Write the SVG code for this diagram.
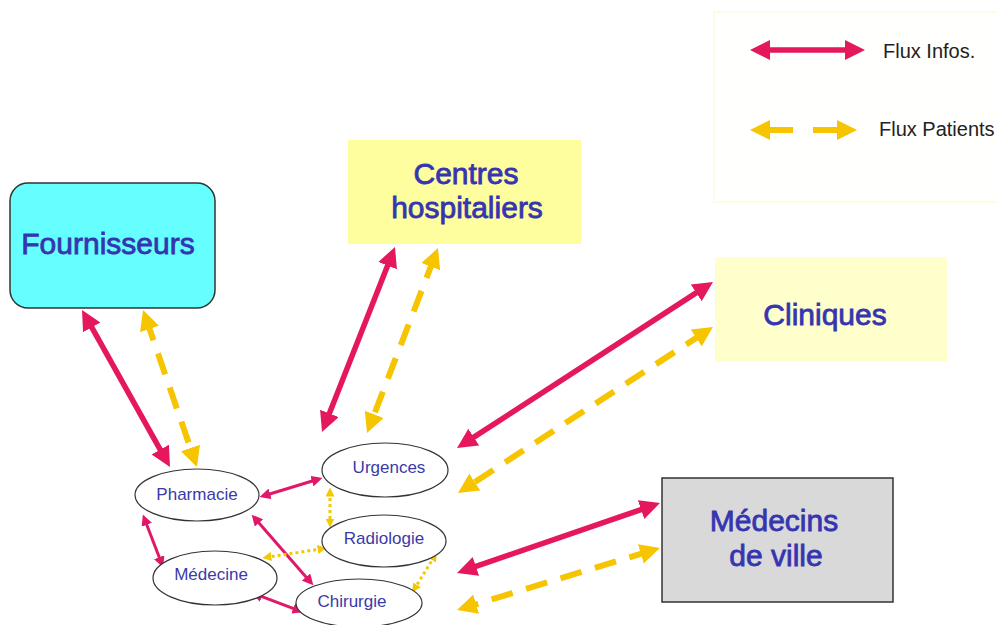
<svg xmlns="http://www.w3.org/2000/svg" width="997" height="625" viewBox="0 0 997 625">
<style>
.big{font-family:"Liberation Sans",Arial,sans-serif;font-size:30px;fill:#3535b0;stroke:#3535b0;stroke-width:0.8;text-anchor:middle}
.small{font-family:"Liberation Sans",Arial,sans-serif;font-size:17px;fill:#3a3aa8;text-anchor:middle}
.leg{font-family:"Liberation Sans",Arial,sans-serif;font-size:20px;fill:#222}
.ell{fill:#fff;stroke:#333;stroke-width:1.2}
.pinkB{stroke:#e5175d;stroke-width:5.5;fill:none;marker-start:url(#hp);marker-end:url(#hp)}
.yelB{stroke:#f7c400;stroke-width:6;fill:none;stroke-dasharray:22 14;marker-start:url(#hy);marker-end:url(#hy)}
.pinkS{stroke:#e0186a;stroke-width:3;fill:none;marker-start:url(#sp);marker-end:url(#sp)}
.yelS{stroke:#f2c800;stroke-width:3;fill:none;stroke-dasharray:3 3;marker-start:url(#sy);marker-end:url(#sy)}
</style>
<defs>
<marker id="hp" markerUnits="userSpaceOnUse" markerWidth="20" markerHeight="20" viewBox="0 0 20 20" refX="10" refY="10" orient="auto-start-reverse"><path d="M0,0 L20,10 L0,20 z" fill="#e5175d"/></marker>
<marker id="hy" markerUnits="userSpaceOnUse" markerWidth="20" markerHeight="20" viewBox="0 0 20 20" refX="10" refY="10" orient="auto-start-reverse"><path d="M0,0 L20,10 L0,20 z" fill="#f7c400"/></marker>
<marker id="sp" markerUnits="userSpaceOnUse" markerWidth="11" markerHeight="11" viewBox="0 0 10 10" refX="5" refY="5" orient="auto-start-reverse"><path d="M0,0 L10,5 L0,10 z" fill="#e0186a"/></marker>
<marker id="sy" markerUnits="userSpaceOnUse" markerWidth="9" markerHeight="9" viewBox="0 0 10 10" refX="5" refY="5" orient="auto-start-reverse"><path d="M0,0 L10,5 L0,10 z" fill="#f2c800"/></marker>
</defs>
<rect width="997" height="625" fill="#fff"/>

<g id="legend">
<rect x="714" y="12" width="300" height="190" fill="#fffffd" stroke="#fbfbe8" stroke-width="2"/>
<line x1="760" y1="50" x2="855" y2="50" class="pinkB"/>
<line x1="760" y1="130" x2="847" y2="130" stroke="#f7c400" stroke-width="6" stroke-dasharray="33 20 40" marker-start="url(#hy)" marker-end="url(#hy)"/>
<text x="883" y="58" class="leg">Flux Infos.</text>
<text x="879" y="136" class="leg">Flux Patients</text>
</g>

<g id="connectors">
<line x1="86.9" y1="318.7" x2="165.1" y2="458.3" class="pinkB"/>
<line x1="146.3" y1="319.5" x2="193.7" y2="457.5" class="yelB"/>
<line x1="391.3" y1="256.3" x2="325.7" y2="422.7" class="pinkB"/>
<line x1="434.4" y1="257.3" x2="370.6" y2="423.7" class="yelB"/>
<line x1="704.6" y1="287.4" x2="465.4" y2="442.6" class="pinkB"/>
<line x1="704.6" y1="332.5" x2="466.4" y2="487.5" class="yelB"/>
<line x1="650.5" y1="506.3" x2="466.5" y2="569.7" class="pinkB"/>
<line x1="650.4" y1="550.9" x2="466.6" y2="607.1" class="yelB"/>
<line x1="264.8" y1="495.5" x2="317.2" y2="479.5" class="pinkS"/>
<line x1="144.8" y1="519.7" x2="161.2" y2="562.3" class="pinkS"/>
<line x1="255.3" y1="518.8" x2="309.7" y2="581.2" class="pinkS"/>
<line x1="256.7" y1="594.7" x2="298.3" y2="610.3" class="pinkS"/>
<line x1="330" y1="492" x2="330" y2="523" class="yelS"/>
<line x1="322.1" y1="548.8" x2="266.9" y2="557.2" class="yelS"/>
<line x1="434.4" y1="556.3" x2="414.6" y2="588.7" class="yelS"/>
</g>

<g id="fournisseurs">
<rect x="10" y="183" width="205" height="125" rx="18" fill="#66ffff" stroke="#333" stroke-width="1.5"/>
<text x="108" y="254" class="big">Fournisseurs</text>
</g>
<g id="centres">
<rect x="348" y="140" width="233" height="104" fill="#fefe9e"/>
<text x="466" y="184" class="big">Centres</text>
<text x="467" y="218" class="big">hospitaliers</text>
</g>
<g id="cliniques">
<rect x="715" y="257" width="232" height="105" fill="#ffffcc"/>
<text x="825" y="325" class="big">Cliniques</text>
</g>
<g id="medecins">
<rect x="662" y="478" width="231" height="124" fill="#d9d9d9" stroke="#333" stroke-width="1.5"/>
<text x="774" y="531" class="big">Médecins</text>
<text x="776" y="566" class="big">de ville</text>
</g>

<g id="pharmacie">
<ellipse cx="197" cy="495" rx="62" ry="26" class="ell"/>
<text x="197" y="500" class="small">Pharmacie</text>
</g>
<g id="urgences">
<ellipse cx="385" cy="470" rx="63" ry="27" class="ell"/>
<text x="389" y="473" class="small">Urgences</text>
</g>
<g id="radiologie">
<ellipse cx="384" cy="541" rx="62" ry="26" class="ell"/>
<text x="384" y="544" class="small">Radiologie</text>
</g>
<g id="medecine">
<ellipse cx="215" cy="578" rx="62" ry="27" class="ell"/>
<text x="211" y="580" class="small">Médecine</text>
</g>
<g id="chirurgie">
<ellipse cx="359" cy="603" rx="63" ry="24" class="ell"/>
<text x="352" y="607" class="small">Chirurgie</text>
</g>
</svg>
